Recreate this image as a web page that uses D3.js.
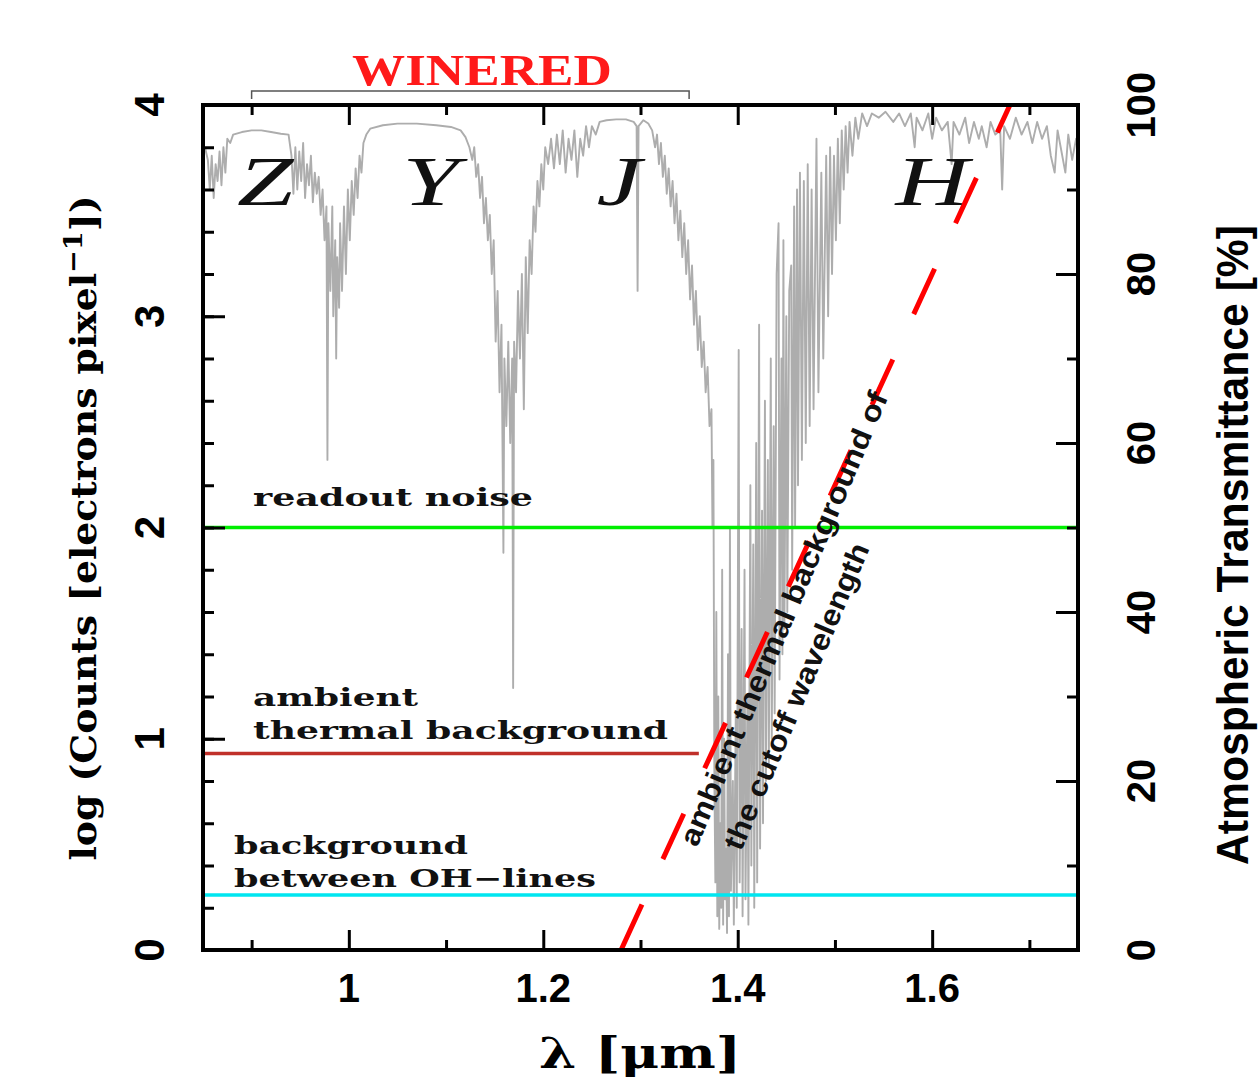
<!DOCTYPE html>
<html>
<head>
<meta charset="utf-8">
<script src="https://cdn.jsdelivr.net/npm/d3@7"></script>
<style>
body { margin: 0; background: #fff; }
</style>
</head>
<body>
<div id="chart"></div>
<script>
// axis ticks
const xMajor = [1.0, 1.2, 1.4, 1.6];
const xMinor = [0.9, 1.1, 1.3, 1.5, 1.7];
const yMajor = [0, 1, 2, 3, 4];
const rMajor = [0, 20, 40, 60, 80, 100];
const rMinor = [10, 30, 50, 70, 90];

// horizontal count levels (log counts)
const levelValues = [2.0, 0.93, 0.26];
const levelEnds = [1.75, 1.36, 1.75];
const levelColors = ['#00ee00', '#c0302a', '#00e6f0'];

// cutoff line: wavelength vs log counts
const cutoffWave = [1.28, 1.68];
const cutoffCounts = [0, 4];

// photometric bands
const bandNames = ['Z', 'Y', 'J', 'H'];
const bandWave = [0.914, 1.084, 1.278, 1.60];

const wineredRange = [0.90, 1.35];

// atmospheric transmittance [um, %]
const transmittance = [
  [0.852,95.0],[0.855,93.5],[0.857,90.0],[0.859,94.0],[0.861,89.0],[0.863,93.0],[0.865,91.0],
  [0.867,94.5],[0.869,90.5],[0.871,95.0],[0.873,92.0],[0.875,96.0],[0.878,95.5],[0.881,96.5],
  [0.890,96.8],[0.900,97.0],[0.910,97.0],[0.920,96.8],[0.930,96.6],[0.938,96.5],[0.941,94.0],
  [0.943,89.5],[0.945,95.0],[0.947,90.0],[0.949,94.5],[0.951,91.0],[0.953,95.5],[0.955,89.0],
  [0.957,93.0],[0.959,90.5],[0.961,94.0],[0.963,88.5],[0.965,92.0],[0.967,89.5],[0.969,91.5],
  [0.971,87.0],[0.973,90.0],[0.975,84.0],[0.977,88.0],[0.978,58.0],[0.979,86.0],[0.981,78.0],
  [0.983,88.0],[0.984,75.0],[0.986,84.0],[0.987,70.0],[0.988,82.0],[0.990,76.0],[0.991,86.0],
  [0.993,78.0],[0.995,88.0],[0.997,80.0],[0.999,90.0],[1.001,84.0],[1.003,91.0],[1.005,87.0],
  [1.007,92.5],[1.009,89.0],[1.011,94.0],[1.013,92.0],[1.015,95.5],[1.018,96.5],[1.022,97.2],
  [1.035,97.6],[1.050,97.8],[1.070,97.8],[1.090,97.6],[1.105,97.4],[1.115,97.0],[1.120,96.2],
  [1.124,95.0],[1.127,93.5],[1.129,95.0],[1.131,91.5],[1.133,93.0],[1.135,89.0],[1.137,91.5],
  [1.139,86.0],[1.141,89.0],[1.143,84.0],[1.145,87.0],[1.147,80.0],[1.149,84.0],[1.151,72.0],
  [1.153,78.0],[1.155,66.0],[1.157,74.0],[1.159,47.0],[1.160,70.0],[1.162,62.0],[1.164,72.0],
  [1.166,60.0],[1.168,70.0],[1.169,31.0],[1.170,72.0],[1.172,66.0],[1.174,78.0],[1.176,70.0],
  [1.178,80.0],[1.180,64.0],[1.182,82.0],[1.184,73.0],[1.186,84.0],[1.188,80.0],[1.190,88.0],
  [1.192,85.0],[1.194,91.0],[1.196,88.0],[1.198,93.0],[1.200,90.0],[1.202,95.0],[1.205,93.0],
  [1.208,96.0],[1.211,92.5],[1.214,96.5],[1.217,93.0],[1.220,97.0],[1.223,92.0],[1.226,96.0],
  [1.229,93.5],[1.232,97.0],[1.235,91.5],[1.238,96.0],[1.241,94.0],[1.244,97.5],[1.247,95.0],
  [1.250,97.5],[1.254,96.5],[1.258,98.0],[1.265,98.2],[1.275,98.3],[1.285,98.3],[1.293,98.0],
  [1.296,97.5],[1.297,78.0],[1.298,97.5],[1.303,98.2],[1.308,97.8],[1.312,97.0],[1.315,95.0],
  [1.317,96.5],[1.319,93.0],[1.321,95.5],[1.323,91.5],[1.325,94.0],[1.327,89.5],[1.329,92.5],
  [1.331,88.0],[1.333,91.0],[1.335,86.0],[1.337,89.5],[1.339,84.0],[1.341,87.5],[1.343,82.0],
  [1.345,86.0],[1.347,80.0],[1.349,84.0],[1.351,77.0],[1.353,81.0],[1.355,74.0],[1.357,78.0],
  [1.359,71.0],[1.361,75.0],[1.363,69.0],[1.365,72.0],[1.367,66.0],[1.369,69.0],[1.371,62.0],
  [1.373,64.0],[1.374,50.0],[1.375,58.0],[1.376,20.0],[1.377,8.0],[1.378,40.0],[1.379,4.0],
  [1.380,30.0],[1.381,2.5],[1.382,15.0],[1.383,5.0],[1.384,45.0],[1.385,3.0],[1.386,25.0],
  [1.387,6.0],[1.388,12.0],[1.389,2.0],[1.390,35.0],[1.391,4.0],[1.392,50.0],[1.393,7.0],
  [1.395,20.0],[1.396,3.0],[1.398,28.0],[1.399,5.0],[1.401,71.0],[1.402,8.0],[1.404,38.0],
  [1.405,4.0],[1.407,45.0],[1.408,6.0],[1.410,30.0],[1.411,3.0],[1.413,55.0],[1.414,10.0],
  [1.416,48.0],[1.417,5.0],[1.419,60.0],[1.420,8.0],[1.422,74.0],[1.423,12.0],[1.425,52.0],
  [1.426,15.0],[1.428,65.0],[1.429,20.0],[1.431,58.0],[1.432,22.0],[1.434,70.0],[1.435,25.0],
  [1.437,62.0],[1.438,28.0],[1.440,80.0],[1.442,86.0],[1.443,32.0],[1.445,70.0],[1.446,35.0],
  [1.447,84.0],[1.448,38.0],[1.450,75.0],[1.451,40.0],[1.453,78.0],[1.455,81.0],[1.456,45.0],
  [1.458,88.0],[1.459,50.0],[1.461,90.0],[1.462,55.0],[1.464,92.0],[1.466,58.0],[1.468,91.0],
  [1.470,60.0],[1.472,93.0],[1.474,62.0],[1.476,90.0],[1.478,64.0],[1.481,96.0],[1.483,66.0],
  [1.486,92.0],[1.488,70.0],[1.491,94.0],[1.493,75.0],[1.495,95.0],[1.497,80.0],[1.499,94.0],
  [1.501,84.0],[1.503,96.0],[1.505,86.0],[1.507,97.0],[1.509,90.0],[1.511,97.5],[1.513,92.0],
  [1.515,98.0],[1.518,94.0],[1.521,98.5],[1.524,96.0],[1.528,99.0],[1.533,97.5],[1.538,99.0],
  [1.545,98.5],[1.552,99.2],[1.560,98.0],[1.566,99.0],[1.572,97.5],[1.578,99.0],[1.582,95.0],
  [1.584,98.5],[1.590,97.0],[1.596,99.0],[1.600,96.0],[1.604,98.5],[1.610,97.0],[1.616,98.0],
  [1.620,93.0],[1.622,98.0],[1.628,96.5],[1.634,98.5],[1.638,95.5],[1.643,98.0],[1.648,96.0],
  [1.651,97.5],[1.656,95.0],[1.660,98.0],[1.665,96.5],[1.670,97.0],[1.672,90.0],[1.674,97.5],
  [1.680,96.0],[1.686,98.5],[1.692,96.5],[1.698,98.0],[1.703,95.5],[1.708,98.0],[1.713,96.0],
  [1.718,97.5],[1.722,94.0],[1.726,92.0],[1.729,97.0],[1.733,94.5],[1.737,92.0],[1.740,96.5],
  [1.744,93.5],[1.748,96.0],[1.750,95.0]
];

let dim = { width: 1259, height: 1082 };
let plot = { left: 203, right: 1078, top: 105, bottom: 950 };

let svg = d3.select('#chart').append('svg')
    .attr('width', dim.width)
    .attr('height', dim.height)
    .style('background', '#fff');

let x = d3.scaleLinear().domain([0.85, 1.75]).range([plot.left, plot.right]);
let y = d3.scaleLinear().domain([0, 4]).range([plot.bottom, plot.top]);
let yR = d3.scaleLinear().domain([0, 100]).range([plot.bottom, plot.top]);

svg.append('clipPath').attr('id', 'clip')
    .append('rect')
    .attr('x', plot.left).attr('y', plot.top)
    .attr('width', plot.right - plot.left)
    .attr('height', plot.bottom - plot.top);

let body = svg.append('g').attr('clip-path', 'url(#clip)');

// transmittance spectrum
body.append('path')
    .datum(transmittance)
    .attr('fill', 'none')
    .attr('stroke', '#adadad')
    .attr('stroke-width', 1.9)
    .attr('stroke-linejoin', 'round')
    .attr('d', d3.line().x(d => x(d[0])).y(d => yR(d[1])));

// levels
levelValues.forEach(function(v, i) {
    body.append('line')
        .attr('x1', plot.left).attr('x2', x(levelEnds[i]))
        .attr('y1', y(v)).attr('y2', y(v))
        .attr('stroke', levelColors[i])
        .attr('stroke-width', 3.5);
});

// cutoff dashed line
body.append('line')
    .attr('x1', x(cutoffWave[0])).attr('y1', y(cutoffCounts[0]))
    .attr('x2', x(cutoffWave[1])).attr('y2', y(cutoffCounts[1]))
    .attr('stroke', '#ff0000')
    .attr('stroke-width', 5)
    .attr('stroke-dasharray', '50,50');

// axes with inward ticks
function styleAxis(g) {
    g.select('.domain').remove();
    g.selectAll('line').attr('stroke', '#000').attr('stroke-width', 3);
    g.selectAll('text').remove();
}
svg.append('g').attr('transform', `translate(0,${plot.bottom})`)
    .call(d3.axisTop(x).tickValues(xMajor).tickSize(20)).call(styleAxis);
svg.append('g').attr('transform', `translate(0,${plot.bottom})`)
    .call(d3.axisTop(x).tickValues(xMinor).tickSize(10)).call(styleAxis);
svg.append('g').attr('transform', `translate(0,${plot.top})`)
    .call(d3.axisBottom(x).tickValues(xMajor).tickSize(20)).call(styleAxis);
svg.append('g').attr('transform', `translate(0,${plot.top})`)
    .call(d3.axisBottom(x).tickValues(xMinor).tickSize(10)).call(styleAxis);
svg.append('g').attr('transform', `translate(${plot.left},0)`)
    .call(d3.axisRight(y).tickValues(yMajor).tickSize(22)).call(styleAxis);
svg.append('g').attr('transform', `translate(${plot.left},0)`)
    .call(d3.axisRight(y).tickValues(d3.range(0.2, 4, 0.2)).tickSize(11)).call(styleAxis);
svg.append('g').attr('transform', `translate(${plot.right},0)`)
    .call(d3.axisLeft(yR).tickValues(rMajor).tickSize(22)).call(styleAxis);
svg.append('g').attr('transform', `translate(${plot.right},0)`)
    .call(d3.axisLeft(yR).tickValues(rMinor).tickSize(11)).call(styleAxis);

// frame
svg.append('rect')
    .attr('x', plot.left).attr('y', plot.top)
    .attr('width', plot.right - plot.left)
    .attr('height', plot.bottom - plot.top)
    .attr('fill', 'none')
    .attr('stroke', '#000')
    .attr('stroke-width', 4);

// tick labels
const tickFont = "'Liberation Sans', Arial, sans-serif";
svg.selectAll('.xlab').data(xMajor).join('text')
    .attr('x', d => x(d)).attr('y', 1002)
    .attr('text-anchor', 'middle')
    .attr('font-family', tickFont).attr('font-weight', 'bold').attr('font-size', 40)
    .text(d => d3.format('')(d));
svg.selectAll('.ylab').data(yMajor).join('text')
    .attr('transform', d => `translate(164,${y(d)}) rotate(-90)`)
    .attr('text-anchor', 'middle')
    .attr('font-family', tickFont).attr('font-weight', 'bold').attr('font-size', 42)
    .text(d => d);
svg.selectAll('.rlab').data(rMajor).join('text')
    .attr('transform', d => `translate(1155,${yR(d)}) rotate(-90)`)
    .attr('text-anchor', 'middle')
    .attr('font-family', tickFont).attr('font-weight', 'bold').attr('font-size', 40)
    .text(d => d);

// axis titles
const serif = "'DejaVu Serif', 'Liberation Serif', serif";
let ylab = svg.append('text')
    .attr('transform', 'translate(96,528) rotate(-90)')
    .attr('text-anchor', 'middle')
    .attr('font-family', serif).attr('font-weight', 'bold').attr('font-size', 36)
    .attr('textLength', 665).attr('lengthAdjust', 'spacingAndGlyphs');
ylab.append('tspan').text('log (Counts [electrons pixel');
ylab.append('tspan').attr('dy', -14).attr('font-size', 26).text('\u22121');
ylab.append('tspan').attr('dy', 14).text('])');

svg.append('text')
    .attr('transform', 'translate(1248,545) rotate(-90)')
    .attr('text-anchor', 'middle')
    .attr('font-family', tickFont).attr('font-weight', 'bold').attr('font-size', 44)
    .attr('textLength', 640).attr('lengthAdjust', 'spacingAndGlyphs')
    .text('Atmospheric Transmittance [%]');

svg.append('text')
    .attr('x', 640).attr('y', 1068)
    .attr('text-anchor', 'middle')
    .attr('font-family', serif).attr('font-weight', 'bold').attr('font-size', 42)
    .attr('textLength', 202).attr('lengthAdjust', 'spacingAndGlyphs')
    .text('\u03bb [\u03bcm]');

// WINERED range
svg.append('path')
    .attr('d', `M${x(wineredRange[0])},99 V91 H${x(wineredRange[1])} V99`)
    .attr('fill', 'none')
    .attr('stroke', '#555')
    .attr('stroke-width', 1.5);
svg.append('text')
    .attr('x', 482).attr('y', 85)
    .attr('text-anchor', 'middle')
    .attr('font-family', "'Liberation Serif', serif").attr('font-weight', 'bold').attr('font-size', 44)
    .attr('fill', '#ff1a1a')
    .attr('textLength', 260).attr('lengthAdjust', 'spacingAndGlyphs')
    .text('WINERED');

// band names
svg.selectAll('.band').data(bandNames).join('text')
    .attr('transform', (d, i) => `translate(${x(bandWave[i])},205) scale(1.45,1)`)
    .attr('text-anchor', 'middle')
    .attr('font-family', "'Liberation Serif', serif").attr('font-style', 'italic')
    .attr('font-size', 70)
    .attr('fill', '#111')
    .text(d => d);

// level annotations
const noteFont = "'DejaVu Serif', serif";
function note(txt, px, py, len) {
    svg.append('text')
        .attr('x', px).attr('y', py)
        .attr('font-family', noteFont).attr('font-weight', 'bold').attr('font-size', 24)
        .attr('fill', '#111')
        .attr('textLength', len).attr('lengthAdjust', 'spacingAndGlyphs')
        .text(txt);
}
note('readout noise', 253, 506, 280);
note('ambient', 253, 706, 165);
note('thermal background', 253, 739, 415);
note('background', 234, 854, 234);
note('between OH\u2212lines', 234, 887, 362);

// slanted annotation along the cutoff line
function slant(txt, px, py, len) {
    svg.append('text')
        .attr('transform', `translate(${px},${py}) rotate(-67)`)
        .attr('font-family', tickFont).attr('font-weight', 'bold').attr('font-size', 29)
        .attr('fill', '#111')
        .attr('textLength', len).attr('lengthAdjust', 'spacingAndGlyphs')
        .text(txt);
}
slant('ambient thermal background of', 697, 848, 490);
slant('the cutoff wavelength', 741, 852, 330);
</script>
</body>
</html>
